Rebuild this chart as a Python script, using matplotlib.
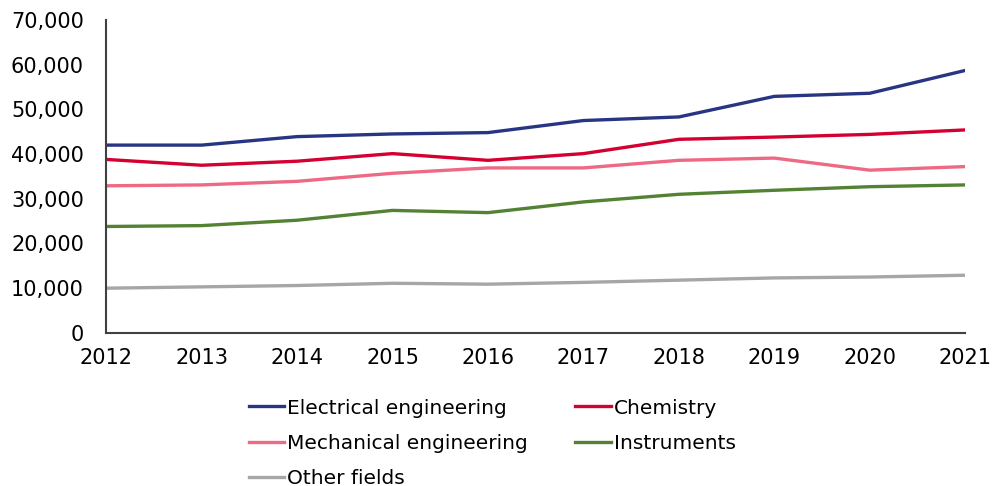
import matplotlib.pyplot as plt
from matplotlib.ticker import FuncFormatter

years = [2012, 2013, 2014, 2015, 2016, 2017, 2018, 2019, 2020, 2021]

electrical = [42000, 42000, 43900, 44500, 44800, 47500, 48300, 52900, 53600, 58700]
chemistry = [38800, 37500, 38400, 40100, 38600, 40100, 43300, 43800, 44400, 45400]
mechanical = [32900, 33100, 33900, 35700, 36900, 36900, 38600, 39100, 36400, 37200]
instruments = [23800, 24000, 25200, 27400, 26900, 29300, 31000, 31900, 32700, 33100]
other = [10000, 10300, 10600, 11100, 10900, 11300, 11800, 12300, 12500, 12900]

plt.rcParams['font.family'] = ['DejaVu Sans']

fig = plt.figure(figsize=(9.92, 4.86), dpi=100)
ax = fig.add_axes([0.107, 0.315, 0.866, 0.644])

lw = 2.4
l_el, = ax.plot(years, electrical, color="#283583", lw=lw, label="Electrical engineering")
l_ch, = ax.plot(years, chemistry, color="#D50032", lw=lw, label="Chemistry")
l_me, = ax.plot(years, mechanical, color="#EE6A84", lw=lw, label="Mechanical engineering")
l_in, = ax.plot(years, instruments, color="#548235", lw=lw, label="Instruments")
l_ot, = ax.plot(years, other, color="#A6A6A6", lw=lw, label="Other fields")

ax.set_xlim(2012, 2021)
ax.set_ylim(0, 70000)
ax.set_xticks(years)
ax.set_yticks(range(0, 70001, 10000))
ax.yaxis.set_major_formatter(FuncFormatter(lambda v, p: f"{int(v):,}"))
ax.tick_params(length=0, labelsize=15, colors="black")
ax.tick_params(axis="x", pad=11)
ax.tick_params(axis="y", pad=16)

for s in ["top", "right"]:
    ax.spines[s].set_visible(False)
for s in ["left", "bottom"]:
    ax.spines[s].set_color("#404040")
    ax.spines[s].set_linewidth(1.5)

# matplotlib fills legend columns first, so order handles to read row by row
handles = [l_el, l_me, l_ot, l_ch, l_in]
fig.legend(handles=handles, labels=[h.get_label() for h in handles],
           loc="upper left", bbox_to_anchor=(0.251, 0.180), ncol=2, frameon=False,
           fontsize=14.5, handlelength=1.75, handletextpad=0.15, columnspacing=2.35,
           labelspacing=0.8, borderaxespad=0, borderpad=0)

fig.savefig("out.png", dpi=100)
